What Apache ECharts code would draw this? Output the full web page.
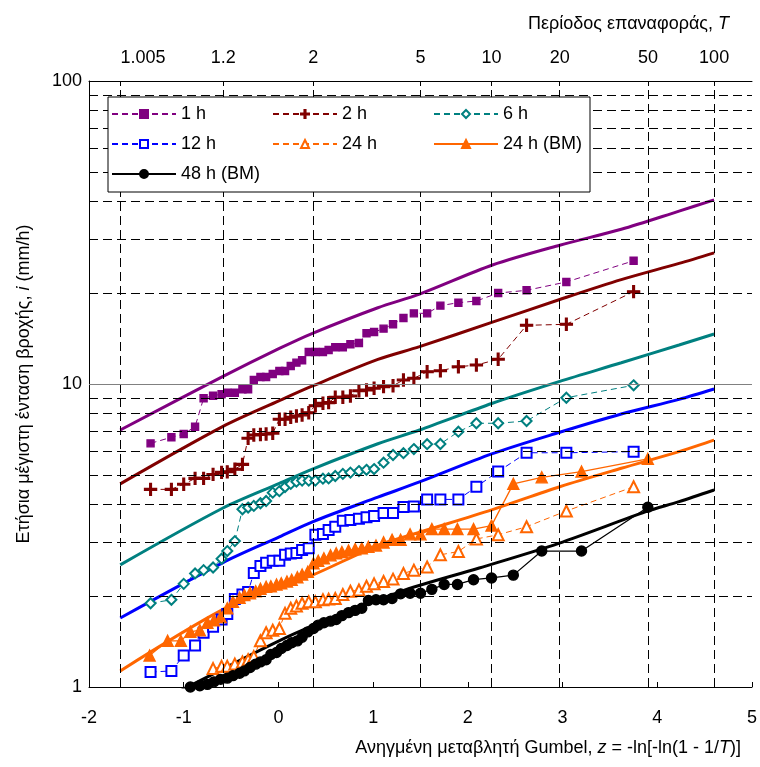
<!DOCTYPE html>
<html>
<head>
<meta charset="utf-8">
<script src="https://cdn.jsdelivr.net/npm/echarts@6/dist/echarts.min.js"></script>
<style>html,body{margin:0;padding:0;background:#fff}#c{width:760px;height:767px}</style>
</head>
<body>
<div id="c"></div>
<script>
// ---- DATA ----
// Gumbel reduced variate positions of the 42-year samples (1 h ... 24 h)
const zA = [-1.35,-1.13,-1.00,-0.88,-0.79,-0.69,-0.60,-0.54,-0.46,-0.38,-0.32,-0.26,-0.19,-0.13,-0.06,0.01,0.07,0.13,0.19,0.25,0.32,0.39,0.47,0.53,0.60,0.68,0.76,0.85,0.93,1.01,1.11,1.21,1.32,1.43,1.57,1.71,1.90,2.09,2.32,2.62,3.04,3.75];
// positions of the 49-year block-maxima samples (BM)
const zB = [-1.36,-1.17,-1.03,-0.93,-0.83,-0.75,-0.68,-0.61,-0.54,-0.48,-0.41,-0.36,-0.30,-0.24,-0.19,-0.13,-0.08,-0.02,0.03,0.09,0.14,0.20,0.25,0.31,0.37,0.42,0.48,0.55,0.61,0.67,0.74,0.81,0.88,0.95,1.03,1.11,1.20,1.29,1.39,1.50,1.62,1.75,1.89,2.06,2.25,2.48,2.78,3.20,3.90];

const i1h = [6.37,6.67,6.84,7.23,8.97,9.15,9.25,9.36,9.36,9.61,9.61,10.31,10.55,10.55,10.79,11.04,11.04,11.47,11.76,11.98,12.75,12.75,12.75,12.95,13.22,13.22,13.52,13.65,14.70,14.84,15.23,15.74,16.51,17.11,17.11,18.14,18.55,18.79,19.96,20.38,21.71,25.5];
const i2h = [4.49,4.49,4.67,4.88,4.88,5.03,5.11,5.13,5.23,5.43,6.62,6.79,6.81,6.84,6.88,7.65,7.65,7.77,7.84,7.90,8.04,8.48,8.64,8.68,9.04,9.04,9.13,9.50,9.55,9.68,9.80,9.87,10.31,10.44,10.98,11.06,11.40,11.55,12.07,15.62,15.74,20.17];
const i6h = [1.89,1.94,2.19,2.37,2.43,2.48,2.65,2.81,3.03,3.86,3.91,3.96,4.04,4.11,4.38,4.43,4.57,4.68,4.76,4.80,4.80,4.80,4.87,4.88,4.97,5.05,5.10,5.16,5.21,5.24,5.50,5.83,5.91,6.10,6.33,6.34,6.96,7.42,7.42,7.55,9.01,9.90];
const i12h = [1.12,1.13,1.27,1.37,1.51,1.58,1.67,1.74,1.95,2.02,2.06,2.38,2.51,2.57,2.61,2.61,2.73,2.76,2.77,2.83,2.87,3.18,3.20,3.30,3.38,3.54,3.56,3.59,3.63,3.67,3.75,3.75,3.93,3.94,4.16,4.16,4.16,4.58,5.14,5.93,5.93,5.98];
const i24h = [null,null,null,null,null,1.15,1.17,1.17,1.19,1.21,1.23,1.26,1.42,1.51,1.54,1.56,1.75,1.82,1.85,1.89,1.91,1.91,1.94,1.95,1.96,2.02,2.07,2.09,2.15,2.19,2.23,2.27,2.37,2.43,2.49,2.73,2.80,3.08,3.18,3.38,3.81,4.58];
const i24bm = [1.27,1.42,1.42,1.52,1.54,1.63,1.66,1.70,1.82,1.91,1.97,2.01,2.04,2.07,2.11,2.14,2.15,2.18,2.20,2.23,2.26,2.30,2.35,2.40,2.56,2.61,2.66,2.72,2.76,2.79,2.82,2.85,2.87,2.90,2.93,3.00,3.06,3.06,3.19,3.19,3.32,3.32,3.32,3.32,3.41,4.68,4.92,5.14,5.66];
const i48bm = [null,null,0.985,1.00,1.01,1.02,1.04,1.06,1.07,1.09,1.11,1.13,1.16,1.19,1.21,1.23,1.28,1.30,1.34,1.37,1.40,1.42,1.46,1.52,1.56,1.60,1.63,1.65,1.67,1.72,1.76,1.79,1.82,1.93,1.94,1.94,1.96,2.03,2.04,2.04,2.10,2.18,2.18,2.26,2.29,2.34,2.81,2.81,3.92];

// fitted distribution curves
const fitZ = [-1.67,-0.59,0.01,0.36,1.05,1.49,2.26,2.97,3.62,4.23,4.6];
const fit1h = [7.05,10.57,13.1,14.7,17.85,19.8,24.7,28.7,32.4,37.2,40.5];
const fit2h = [4.68,7.23,8.81,9.85,12.05,13.28,16.0,19.0,22.1,25.0,27.1];
const fit6h = [2.53,3.89,4.70,5.24,6.35,7.05,8.64,10.2,11.75,13.45,14.62];
const fit12h = [1.69,2.57,3.13,3.51,4.23,4.75,5.89,6.93,7.96,8.90,9.63];
const fit24h = [1.13,1.80,2.14,2.34,2.93,3.24,3.85,4.58,5.27,5.98,6.53];
const fitZ48 = [-1.67,-1.09,0.17,1.28,2.12,2.96,3.88,4.23,4.6];
const fit48h = [0.78,0.953,1.50,2.06,2.47,2.98,3.79,4.09,4.47];

// return-period tick labels (top axis) and log grid values
const tLabels = ['1.005','1.2','2','5','10','20','50','100'];
const yGrid = [2,3,4,5,6,7,8,9,20,30,40,50,60,70,80,90];
const yTicks = [1,2,3,4,5,6,7,8,9,10,20,30,40,50,60,70,80,90,100];

// ---- BUILD ----
const zT = tLabels.map(s => { const t = parseFloat(s); return -Math.log(-Math.log(1 - 1 / t)); });
const pair = (xs, ys) => xs.map((x, k) => [x, ys[k] == null ? null : ys[k]]);
const FONT = 'Liberation Sans, Arial, sans-serif';
const plus = 'path://M8.6,0H11.4V8.6H20V11.4H11.4V20H8.6V11.4H0V8.6H8.6Z';

function dataSeries(name, xs, ys, color, symbol, size, dashed) {
  return {
    name, type: 'line', data: pair(xs, ys), z: 4,
    symbol, symbolSize: size, showSymbol: true,
    color: color,
    lineStyle: { color, width: dashed ? 1 : 1.3, type: dashed ? [6, 4] : 'solid' },
    itemStyle: { color, borderColor: color, borderWidth: 1.4 },
    connectNulls: false, animation: false, emphasis: { disabled: true }
  };
}
function fitSeries(id, xs, ys, color) {
  return {
    name: id, type: 'line', data: pair(xs, ys), z: 3, showSymbol: false, symbol: 'none',
    smooth: 0.3, lineStyle: { color, width: 3 }, color, animation: false, emphasis: { disabled: true }
  };
}

const gridLines = {
  name: 'grid', type: 'line', data: [], z: 1, animation: false, silent: true,
  markLine: {
    silent: true, symbol: 'none', animation: false, label: { show: false },
    lineStyle: { color: '#000', width: 1, type: [9, 5] },
    data: yGrid.map(v => ({ yAxis: v }))
      .concat(zT.map(v => ({ xAxis: v })))
      .concat([{ yAxis: 10, lineStyle: { color: '#808080', type: 'solid', width: 1 } }])
  }
};

const legendBase = { orient: 'vertical', top: 100, itemWidth: 64, itemHeight: 10, itemGap: 12, z: 20,
  textStyle: { fontSize: 18, color: '#000', fontFamily: FONT }, selectedMode: false };

const option = {
  animation: false,
  backgroundColor: '#fff',
  textStyle: { fontFamily: FONT },
  grid: { left: 89, right: 7, top: 81, bottom: 80 },
  graphic: [{
    type: 'rect', z: 10, shape: { x: 108, y: 97, width: 482, height: 95 },
    style: { fill: '#fff', stroke: '#000', lineWidth: 1 }
  }],
  legend: [
    Object.assign({ data: ['1 h', '12 h', '48 h (BM)'], left: 106 }, legendBase),
    Object.assign({ data: ['2 h', '24 h'], left: 267 }, legendBase),
    Object.assign({ data: ['6 h', '24 h (BM)'], left: 428 }, legendBase)
  ],
  xAxis: [
    { type: 'value', position: 'bottom', min: -2, max: 5, interval: 1,
      axisLine: { show: true, onZero: false, lineStyle: { color: '#000', width: 1 } },
      axisTick: { show: true, inside: true, length: 5, lineStyle: { color: '#000' } },
      axisLabel: { color: '#000', fontSize: 18, margin: 22, fontFamily: FONT },
      splitLine: { show: false },
      name: 'Ανηγμένη μεταβλητή Gumbel, {i|z} = -ln[-ln(1 - 1/{i|T})]',
      nameLocation: 'end', nameGap: -11,
      nameTextStyle: { color: '#000', fontSize: 18, fontFamily: FONT, align: 'right', verticalAlign: 'middle', padding: [122, 0, 0, 0],
        rich: { i: { fontStyle: 'italic', fontSize: 18, fontFamily: FONT, color: '#000' } } }
    },
    { type: 'value', position: 'top', min: -2, max: 5,
      axisLine: { show: true, onZero: false, lineStyle: { color: '#000', width: 1 } },
      axisTick: { show: true, inside: true, length: 5, customValues: zT, lineStyle: { color: '#000' } },
      axisLabel: { color: '#000', fontSize: 18, margin: 14, fontFamily: FONT, customValues: zT, alignMinLabel: 'left',
        formatter: v => { let b = 0; zT.forEach((z, k) => { if (Math.abs(z - v) < Math.abs(zT[b] - v)) b = k; }); return tLabels[b]; } },
      splitLine: { show: false },
      name: 'Περίοδος επαναφοράς, {i|T}',
      nameLocation: 'end', nameGap: -23,
      nameTextStyle: { color: '#000', fontSize: 18, fontFamily: FONT, align: 'right', verticalAlign: 'middle', padding: [0, 0, 114, 0],
        rich: { i: { fontStyle: 'italic', fontSize: 18, fontFamily: FONT, color: '#000' } } }
    }
  ],
  yAxis: {
    type: 'log', logBase: 10, min: 1, max: 100,
    axisLine: { show: true, onZero: false, lineStyle: { color: '#000', width: 1 } },
    axisTick: { show: true, inside: true, length: 5, customValues: yTicks, lineStyle: { color: '#000' } },
    axisLabel: { color: '#000', fontSize: 18, margin: 7, fontFamily: FONT },
    splitLine: { show: false }, minorTick: { show: false },
    name: 'Ετήσια μέγιστη ένταση βροχής, {i|i} (mm/h)',
    nameLocation: 'middle', nameGap: 56,
    nameTextStyle: { color: '#000', fontSize: 18, fontFamily: FONT,
      rich: { i: { fontStyle: 'italic', fontSize: 18, fontFamily: FONT, color: '#000' } } }
  },
  series: [
    gridLines,
    fitSeries('fit 1 h', fitZ, fit1h, '#800080'),
    fitSeries('fit 2 h', fitZ, fit2h, '#800000'),
    fitSeries('fit 6 h', fitZ, fit6h, '#008080'),
    fitSeries('fit 12 h', fitZ, fit12h, '#0000ff'),
    fitSeries('fit 24 h', fitZ, fit24h, '#ff6600'),
    fitSeries('fit 48 h', fitZ48, fit48h, '#000000'),
    dataSeries('1 h', zA, i1h, '#800080', 'rect', 7, true),
    dataSeries('2 h', zA, i2h, '#800000', plus, 12, true),
    dataSeries('6 h', zA, i6h, '#008080', 'emptyDiamond', 10, true),
    dataSeries('12 h', zA, i12h, '#0000ff', 'emptyRect', 10, true),
    dataSeries('24 h', zA, i24h, '#ff6600', 'emptyTriangle', 11, true),
    dataSeries('24 h (BM)', zB, i24bm, '#ff6600', 'triangle', 11, false),
    dataSeries('48 h (BM)', zB, i48bm, '#000000', 'circle', 10, false)
  ]
};
const chart = echarts.init(document.getElementById('c'), null, { renderer: 'canvas' });
chart.setOption(option);
</script>
</body>
</html>
